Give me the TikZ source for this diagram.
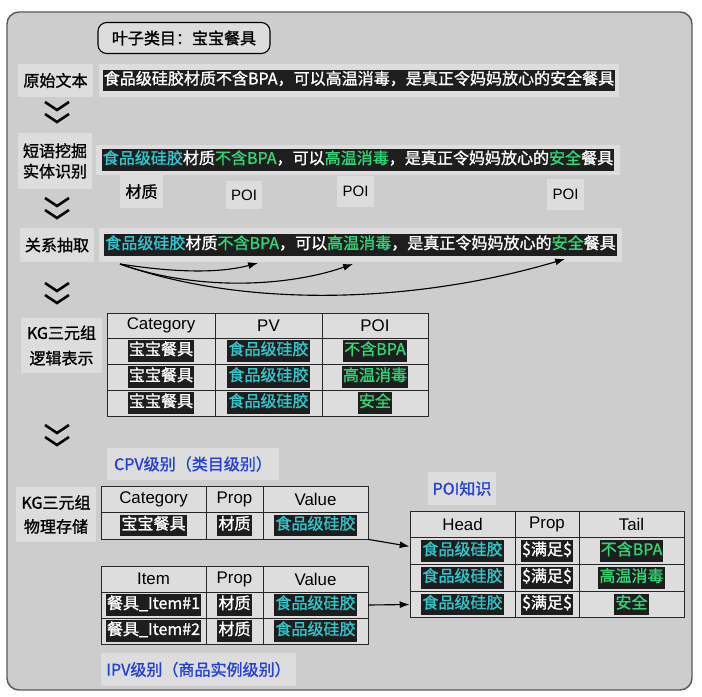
\documentclass[tikz,border=0pt]{standalone}
\usepackage{fontspec}
\setmainfont{Noto Sans CJK SC}[RawFeature={embolden=1.2}]
\newfontfamily\latfont{Liberation Sans}
\usetikzlibrary{positioning,arrows.meta}
\definecolor{panelgray}{RGB}{205,205,205}
\definecolor{boxgray}{RGB}{221,221,221}
\definecolor{hlblack}{RGB}{30,30,30}
\definecolor{kwcyan}{RGB}{45,200,205}
\definecolor{kwgreen}{RGB}{45,215,120}
\definecolor{lvlblue}{RGB}{35,65,215}
\newcommand{\cy}[1]{\textcolor{kwcyan}{#1}}
\newcommand{\gr}[1]{\textcolor{kwgreen}{#1}}
\newcommand{\hlbox}[2]{{\setlength{\fboxsep}{0.8pt}\colorbox{hlblack}{\textcolor{#1}{\strut #2}}}}
\newcommand{\chevs}[2]{%
	\draw[chev] (#1-12,#2) -- (#1,#2+8) -- (#1+12,#2);
	\draw[chev] (#1-12,#2+12) -- (#1,#2+20) -- (#1+12,#2+12);}
\tikzset{
	txt/.style={font=\fontsize{11.4pt}{14pt}\selectfont},
	hdr/.style={font=\latfont\fontsize{12pt}{14pt}\selectfont},
	lbl/.style={txt, fill=boxgray, inner sep=0pt, align=center},
	cell/.style={txt, draw=black!85, line width=0.6pt, fill=boxgray, inner sep=0pt},
	chev/.style={line width=1.8pt, line join=miter},
	arr/.style={-{Latex[length=7pt,width=5pt]}, line width=0.8pt},
}
\begin{document}
\begin{tikzpicture}[x=0.025cm, y=-0.025cm]
	\useasboundingbox (0,0) rectangle (702,696);
	\draw[draw=black!65, line width=1pt, fill=panelgray, rounded corners=0.3cm] (7,12) rectangle (692,690);
	
	\node [txt, draw, thick, fill=boxgray, rounded corners=0.22cm, minimum width=4.3cm, minimum height=0.775cm, inner sep=0pt] (leaf) at (184,38) {叶子类目：宝宝餐具};
	
	% rows of text
	\node [lbl, minimum width=1.875cm, minimum height=0.825cm] (rawlbl) at (55.5,80.5) {原始文本};
	\node [lbl, minimum width=13cm, minimum height=0.825cm] (raw) at (359,80.5) {\hlbox{white}{食品级硅胶材质不含BPA，可以高温消毒，是真正令妈妈放心的安全餐具}};
	\chevs{57}{102}
	
	\node [lbl, minimum width=1.85cm, minimum height=1.375cm, font=\fontsize{11.4pt}{14.5pt}\selectfont] (nerlbl) at (55,161) {短语挖掘\\实体识别};
	\node [lbl, minimum width=13.1cm, minimum height=0.75cm] (ner) at (358,160) {\hlbox{white}{\cy{食品级硅胶}材质\gr{不含BPA}，可以\gr{高温消毒}，是真正令妈妈放心的\gr{安全}餐具}};
	\node [lbl, minimum width=1.075cm, minimum height=0.825cm] (tagmat) at (141.5,191.5) {材质};
	\node [lbl, font=\latfont\fontsize{10.7pt}{12pt}\selectfont, minimum width=0.9cm, minimum height=0.7cm] (tagpoi1) at (244,195) {POI};
	\node [lbl, font=\latfont\fontsize{10.7pt}{12pt}\selectfont, minimum width=0.925cm, minimum height=0.775cm] (tagpoi2) at (355.5,191.5) {POI};
	\node [lbl, font=\latfont\fontsize{10.7pt}{12pt}\selectfont, minimum width=0.925cm, minimum height=0.75cm] (tagpoi3) at (565.5,194.5) {POI};
	\chevs{57}{198}
	
	\node [lbl, minimum width=1.85cm, minimum height=0.85cm] (rellbl) at (57,245) {关系抽取};
	\node [lbl, minimum width=13.075cm, minimum height=0.85cm] (rel) at (360.5,245) {\hlbox{white}{\cy{食品级硅胶}材质\gr{不含BPA}，可以\gr{高温消毒}，是真正令妈妈放心的\gr{安全}餐具}};
	\coordinate (relsrc) at (120,264);
	\coordinate (relA) at (258,263);
	\coordinate (relB) at (353,264);
	\coordinate (relC) at (565,259);
	\draw [arr] (relsrc) .. controls (190,275) and (228,271) .. (relA);
	\draw [arr] (relsrc) .. controls (200,292) and (290,286) .. (relB);
	\draw [arr] (relsrc) .. controls (250,310) and (420,302) .. (relC);
	\chevs{57}{283}
	
	% logical triples
	\node [lbl, minimum width=2.025cm, minimum height=1.375cm, font=\fontsize{11.4pt}{18pt}\selectfont] (loglbl) at (61.5,345.5) {KG三元组\\逻辑表示};
	\node [cell, hdr, minimum width=2.7cm, minimum height=0.625cm] (lh1) at (161,325.5) {Category};
	\node [cell, hdr, minimum width=2.675cm, minimum height=0.625cm] (lh2) at (268.5,325.5) {PV};
	\node [cell, hdr, minimum width=2.65cm, minimum height=0.625cm] (lh3) at (375,325.5) {POI};
	\foreach \r/\yy/\poi in {1/351/不含BPA, 2/377/高温消毒, 3/403/安全} {
		\node [cell, minimum width=2.7cm, minimum height=0.65cm] (lc\r) at (161,\yy) {\hlbox{white}{宝宝餐具}};
		\node [cell, minimum width=2.675cm, minimum height=0.65cm] (lp\r) at (268.5,\yy) {\hlbox{kwcyan}{食品级硅胶}};
		\node [cell, minimum width=2.65cm, minimum height=0.65cm] (lo\r) at (375,\yy) {\hlbox{kwgreen}{\poi}};
	}
	\chevs{57}{425}
	
	% physical storage
	\node [lbl, minimum width=4.3cm, minimum height=0.8cm, text=lvlblue] (cpvlbl) at (193,464) {CPV级别（类目级别）};
	\node [lbl, minimum width=2cm, minimum height=1.375cm, font=\fontsize{11.4pt}{17pt}\selectfont] (physlbl) at (56,514.5) {KG三元组\\物理存储};
	\node [cell, hdr, minimum width=2.625cm, minimum height=0.65cm] (ch1) at (153.5,499) {Category};
	\node [cell, hdr, minimum width=1.425cm, minimum height=0.65cm] (ch2) at (234.5,499) {Prop};
	\node [cell, hdr, minimum width=2.625cm, minimum height=0.65cm] (ch3) at (315.5,499) {Value};
	\node [cell, minimum width=2.625cm, minimum height=0.675cm] (cc1) at (153.5,525.5) {\hlbox{white}{宝宝餐具}};
	\node [cell, minimum width=1.425cm, minimum height=0.675cm] (cp1) at (234.5,525.5) {\hlbox{white}{材质}};
	\node [cell, minimum width=2.625cm, minimum height=0.675cm] (cv1) at (315.5,525.5) {\hlbox{kwcyan}{食品级硅胶}};
	
	\node [cell, hdr, minimum width=2.625cm, minimum height=0.65cm] (ih1) at (153.5,579) {Item};
	\node [cell, hdr, minimum width=1.425cm, minimum height=0.65cm] (ih2) at (234.5,579) {Prop};
	\node [cell, hdr, minimum width=2.625cm, minimum height=0.65cm] (ih3) at (315.5,579) {Value};
	\foreach \r/\yy in {1/605, 2/631} {
		\node [cell, minimum width=2.625cm, minimum height=0.65cm] (ic\r) at (153.5,\yy) {\hlbox{white}{餐具\_Item\#\r}};
		\node [cell, minimum width=1.425cm, minimum height=0.65cm] (ip\r) at (234.5,\yy) {\hlbox{white}{材质}};
		\node [cell, minimum width=2.625cm, minimum height=0.65cm] (iv\r) at (315.5,\yy) {\hlbox{kwcyan}{食品级硅胶}};
	}
	\node [lbl, minimum width=4.875cm, minimum height=0.825cm, text=lvlblue] (ipvlbl) at (198.5,669.5) {IPV级别（商品实例级别）};
	
	% POI knowledge
	\node [lbl, minimum width=1.7cm, minimum height=0.825cm, text=lvlblue] (poilbl) at (462,488.5) {POI知识};
	\node [cell, hdr, minimum width=2.625cm, minimum height=0.675cm] (ph0) at (462.5,524.5) {Head};
	\node [cell, hdr, minimum width=1.6cm, minimum height=0.675cm] (pp0) at (547,524.5) {Prop};
	\node [cell, hdr, minimum width=2.625cm, minimum height=0.675cm] (pt0) at (631.5,524.5) {Tail};
	\foreach \r/\yy/\poi in {1/551.2/不含BPA, 2/577.8/高温消毒, 3/604.5/安全} {
		\node [cell, minimum width=2.625cm, minimum height=0.67cm] (ph\r) at (462.5,\yy) {\hlbox{kwcyan}{食品级硅胶}};
		\node [cell, minimum width=1.6cm, minimum height=0.67cm] (pp\r) at (547,\yy) {\hlbox{white}{\$满足\$}};
		\node [cell, minimum width=2.625cm, minimum height=0.67cm] (pt\r) at (631.5,\yy) {\hlbox{kwgreen}{\poi}};
	}
	\draw [arr] (cv1.south east) -- ([yshift=0.12cm]ph1.west);
	\draw [arr] (iv1.east) -- (ph3.west);
\end{tikzpicture}
\end{document}
